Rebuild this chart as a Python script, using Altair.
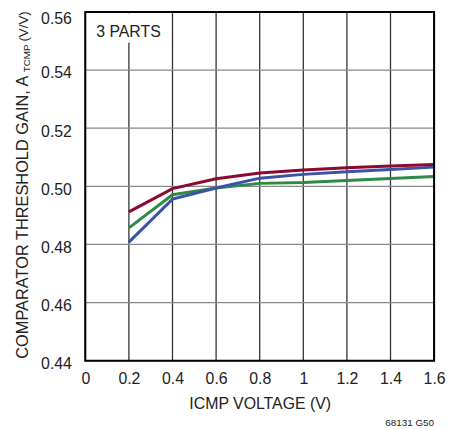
import altair as alt
import pandas as pd

x_vals = [0.2, 0.4, 0.6, 0.8, 1.0, 1.2, 1.4, 1.6]
part_red = [0.4912, 0.4992, 0.5026, 0.5046, 0.5056, 0.5064, 0.5070, 0.5075]
part_green = [0.4857, 0.4971, 0.4994, 0.5010, 0.5013, 0.5020, 0.5027, 0.5034]
part_blue = [0.4808, 0.4956, 0.4994, 0.5028, 0.5041, 0.5050, 0.5058, 0.5066]
series_names = ["PART 1", "PART 2", "PART 3"]
series_colors = ["#8B0A32", "#2E8B47", "#3B52A5"]
x_ticks = [0, 0.2, 0.4, 0.6, 0.8, 1.0, 1.2, 1.4, 1.6]
y_ticks = [0.44, 0.46, 0.48, 0.50, 0.52, 0.54, 0.56]
note_text = "3 PARTS"
note_x, note_y = 0.05, 0.5515
fig_id = "68131 G50"

FONT = "Liberation Sans, Arial, sans-serif"
W, H = 352, 352

rows = []
for name, vals in zip(series_names, [part_red, part_green, part_blue]):
    for xv, yv in zip(x_vals, vals):
        rows.append({"x": xv, "y": yv, "part": name})
df = pd.DataFrame(rows)

xs = alt.Scale(domain=[0, 1.6], nice=False, zero=False)
ys = alt.Scale(domain=[0.44, 0.56], nice=False, zero=False)

base = alt.Chart(df)

grid_x = alt.Chart(pd.DataFrame({"x": x_ticks})).mark_rule(color="#333333", strokeWidth=1.3).encode(
    x=alt.X("x:Q", scale=xs,
            axis=alt.Axis(values=x_ticks, title="ICMP VOLTAGE (V)", labelExpr="format(datum.value, '~g')",
                          grid=False, domain=False, ticks=False, labelPadding=10,
                          labelFontSize=16, labelFont=FONT, labelColor="#222",
                          titleFont=FONT, titleFontSize=16, titleFontWeight="normal",
                          titleColor="#222", titlePadding=9, labelFlush=False)),
)
grid_y = alt.Chart(pd.DataFrame({"y": y_ticks})).mark_rule(color="#888888", strokeWidth=1.3).encode(
    y=alt.Y("y:Q", scale=ys,
            axis=alt.Axis(values=y_ticks, title=None, format=".2f",
                          grid=False, domain=False, ticks=False, labelPadding=14,
                          labelOffset=alt.ExprRef(expr="datum.value > 0.555 ? -1 : 3"),
                          labelBaseline=alt.ExprRef(expr="datum.value > 0.555 ? 'top' : 'middle'"),
                          labelFontSize=16, labelFont=FONT, labelColor="#222", labelFlush=False)),
)

box = alt.Chart(pd.DataFrame({"x": [0.005], "x2": [0.39], "y": [0.5494], "y2": [0.5595]})).mark_rect(
    color="white").encode(x=alt.X("x:Q", scale=xs), x2="x2:Q", y=alt.Y("y:Q", scale=ys), y2="y2:Q")

lines = alt.layer(*[
    base.transform_filter(alt.datum.part == n).mark_line(strokeWidth=3, color=c).encode(
        x=alt.X("x:Q", scale=xs), y=alt.Y("y:Q", scale=ys))
    for n, c in [("PART 2", series_colors[1]), ("PART 3", series_colors[2]), ("PART 1", series_colors[0])]
])

note = alt.Chart(pd.DataFrame({"x": [note_x], "y": [note_y], "t": [note_text]})).mark_text(
    align="left", baseline="alphabetic", font=FONT, fontSize=16, color="#222").encode(
    x=alt.X("x:Q", scale=xs), y=alt.Y("y:Q", scale=ys), text="t:N")

frame = alt.Chart(pd.DataFrame({"a": [0]})).mark_rect(fill=None, stroke="black", strokeWidth=2).encode(
    x=alt.value(0), x2=alt.value(W), y=alt.value(0), y2=alt.value(H))

def label(txt, x, y, size, align, angle=270, baseline="alphabetic"):
    return alt.Chart(pd.DataFrame({"t": [txt]})).mark_text(
        align=align, baseline=baseline, angle=angle, font=FONT, fontSize=size, color="#222").encode(
        x=alt.value(x), y=alt.value(y), text="t:N")

ytitle_main = label("COMPARATOR THRESHOLD GAIN, A", -58, 350, 16.5, "left")
ytitle_sub = label("TCMP", -55.5, 61, 10, "left")
ytitle_unit = label("(V/V)", -58, 30, 13.5, "left")
figlabel = label(fig_id, W, 418, 10, "right", angle=0)

chart = alt.layer(grid_x, grid_y, box, lines, note, frame,
                  ytitle_main, ytitle_sub, ytitle_unit, figlabel).properties(
    width=W, height=H,
    autosize=alt.AutoSizeParams(type="none"),
    padding={"left": 78, "top": 2, "right": 12, "bottom": 67},
).configure_view(stroke=None).configure(background="white")

chart.save("out.html", embed_options={"renderer": "svg", "actions": False})
